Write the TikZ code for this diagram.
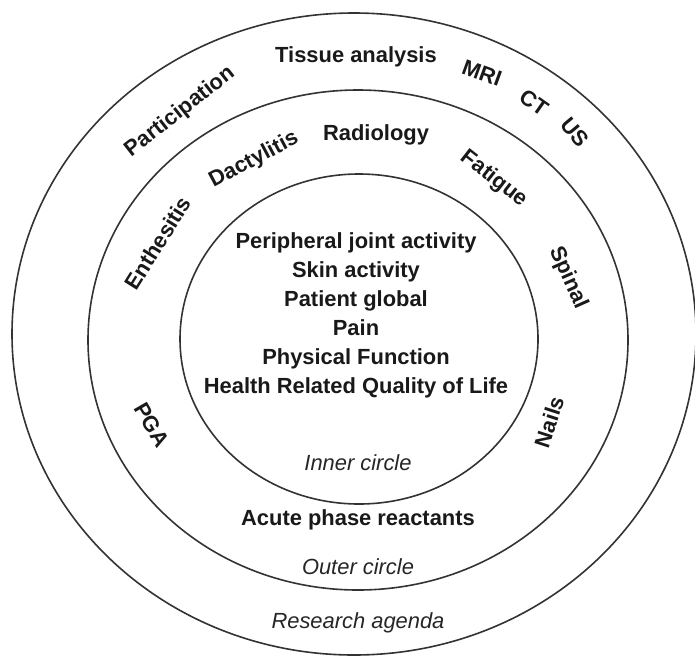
\documentclass[tikz,border=0pt]{standalone}
\usepackage{fontspec}
\setmainfont{Liberation Sans}
\begin{document}
\begin{tikzpicture}[x=0.5pt,y=-0.5pt,
  ring/.style={draw=black!80,line width=0.8pt},
  lbl/.style={font=\fontsize{10.95}{14.5}\selectfont\bfseries,inner sep=0pt,text=black!90},
  note/.style={font=\fontsize{10.95}{14.5}\selectfont\itshape,inner sep=0pt,text=black!85}]
  \useasboundingbox (0,0) rectangle (695,659);
  % three nested rings
  \draw[ring] (354,334) ellipse [x radius=342, y radius=321];
  \draw[ring] (358,340) ellipse [x radius=270, y radius=250];
  \draw[ring] (359,339) ellipse [x radius=179, y radius=165];

  % core set
  \node[lbl,align=center] (core) at (356,315)
    {Peripheral joint activity\\Skin activity\\Patient global\\Pain\\Physical Function\\Health Related Quality of Life};
  \node[note] (inner) at (358,463) {Inner circle};

  % middle ring
  \node[lbl,rotate=58] (enth) at (158,243) {Enthesitis};
  \node[lbl,rotate=28] (dact) at (254,160) {Dactylitis};
  \node[lbl] (radio) at (376,135) {Radiology};
  \node[lbl,rotate=-38] (fat) at (494,179) {Fatigue};
  \node[lbl,rotate=-66] (spin) at (568,278) {Spinal};
  \node[lbl,rotate=-60] (pga) at (152,425) {PGA};
  \node[lbl,rotate=72] (nails) at (549,422) {Nails};
  \node[lbl] (apr) at (358,520) {Acute phase reactants};
  \node[note] (outer) at (358,567) {Outer circle};

  % outer ring
  \node[lbl,rotate=38] (part) at (180,112) {Participation};
  \node[lbl] (tiss) at (356,57) {Tissue analysis};
  \node[lbl,rotate=-20] (mri) at (482,73) {MRI};
  \node[lbl,rotate=-35] (ct) at (534,103) {CT};
  \node[lbl,rotate=-50] (us) at (575,132) {US};
  \node[note] (agenda) at (358,623) {Research agenda};
\end{tikzpicture}
\end{document}
